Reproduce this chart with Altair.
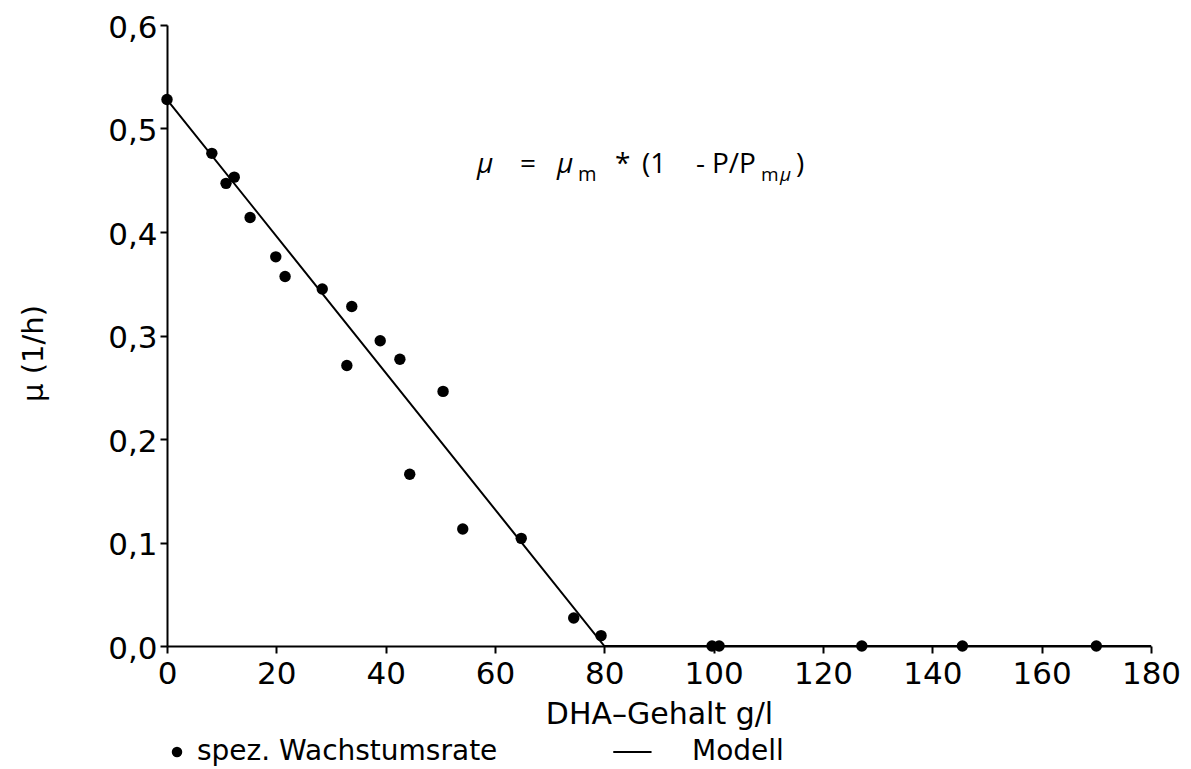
import altair as alt
import pandas as pd

# measured points: DHA content (g/l) and specific growth rate (1/h)
dha = [0, 8.2, 10.8, 12.3, 15.2, 19.9, 21.6, 28.4, 32.9, 33.8, 39.0, 42.6,
       44.4, 50.5, 54.1, 64.8, 74.4, 79.4, 99.7, 101.0, 127.1, 145.5, 170.0]
mu = [0.528, 0.476, 0.447, 0.453, 0.414, 0.376, 0.357, 0.345, 0.271, 0.328,
      0.295, 0.277, 0.166, 0.246, 0.113, 0.104, 0.027, 0.010, 0.0, 0.0,
      0.0, 0.0, 0.0]

# model line
model_x = [0, 80, 180]
model_y = [0.528, 0.0, 0.0]

series = ["spez. Wachstumsrate", "Modell"]
x_ticks = [0, 20, 40, 60, 80, 100, 120, 140, 160, 180]
y_ticks = [0.0, 0.1, 0.2, 0.3, 0.4, 0.5, 0.6]

pts = pd.DataFrame({"x": dha, "y": mu, "series": series[0]})
mdl = pd.DataFrame({"x": model_x, "y": model_y, "series": series[1]})

FONT = "DejaVu Sans"

xenc = alt.X("x:Q", scale=alt.Scale(domain=[0, 180], nice=False),
             axis=alt.Axis(values=x_ticks, title="DHA\u2013Gehalt  g/l",
                           grid=False, domainColor="black", domainWidth=2,
                           tickColor="black", tickWidth=2, tickSize=7,
                           labelFont=FONT, labelFontSize=31, labelColor="black",
                           labelPadding=6, labelFlush=False,
                           titleFont=FONT, titleFontSize=30, titleFontWeight="normal",
                           titleColor="black", titlePadding=10))
yenc = alt.Y("y:Q", scale=alt.Scale(domain=[0, 0.6], nice=False),
             axis=alt.Axis(values=y_ticks, title="\u03bc  (1/h)",
                           labelExpr="replace(format(datum.value, '.1f'), '.', ',')",
                           grid=False, domainColor="black", domainWidth=2,
                           tickColor="black", tickWidth=2, tickSize=7,
                           labelFont=FONT, labelFontSize=31, labelColor="black",
                           labelPadding=3, labelFlush=False, labelOffset=3,
                           titleFont=FONT, titleFontSize=29, titleFontWeight="normal",
                           titleColor="black", titleAngle=-90,
                           titleX=-134, titleY=328, titleAlign="center",
                           titleBaseline="middle"))

points = alt.Chart(pts).mark_point(filled=True, size=130, opacity=1, color="black").encode(
    x=xenc, y=yenc,
    shape=alt.Shape("series:N",
                    scale=alt.Scale(domain=series,
                                    range=["circle",
                                           "M-11.2,-0.2L-3.9,-0.2L-3.9,0.2L-11.2,0.2Z"]),
                    legend=alt.Legend(title=None, orient="none", direction="horizontal",
                                      legendX=-4, legendY=713,
                                      labelFont=FONT, labelFontSize=28, labelColor="black",
                                      symbolSize=110, symbolFillColor="black",
                                      symbolStrokeWidth=0,
                                      symbolOpacity=1, labelOffset=6,
                                      columnPadding=115, labelLimit=600)),
)

line = alt.Chart(mdl).mark_line(color="black", strokeWidth=2).encode(x="x:Q", y="y:Q")

OX, OY = 167, 24
EQ_FONT = "Open Sans"
pieces = [
    (477, 172, "\u03bc", 28, "italic"),
    (520, 172, "=", 28, "normal"),
    (557, 172, "\u03bc", 28, "italic"),
    (578, 180, "m", 20, "normal"),
    (615, 172, "*", 28, "normal"),
    (642, 172, "(1", 28, "normal"),
    (696, 172, "-", 28, "normal"),
    (712, 172, "P/P", 28, "normal"),
    (761, 180, "m", 19, "normal"),
    (780, 180, "\u03bc", 19, "italic"),
    (796, 172, ")", 28, "normal"),
]
eq_layers = []
for px, py, t, fs, st in pieces:
    eq_layers.append(
        alt.Chart(mdl).mark_text(text=t, font=EQ_FONT, fontSize=fs, fontStyle=st,
                                 align="left", baseline="alphabetic", color="black")
        .encode(x=alt.value(px - OX), y=alt.value(py - OY))
        .transform_filter("datum.x == 0")
    )

chart = alt.layer(line, points, *eq_layers).properties(
    width=984, height=621,
    autosize=alt.AutoSizeParams(type="none"),
    padding={"left": 159, "top": 17, "right": 30, "bottom": 121},
).configure(background="white").configure_view(stroke="transparent", strokeWidth=0)

chart.save("out.html", embed_options={"renderer": "svg", "actions": False})
